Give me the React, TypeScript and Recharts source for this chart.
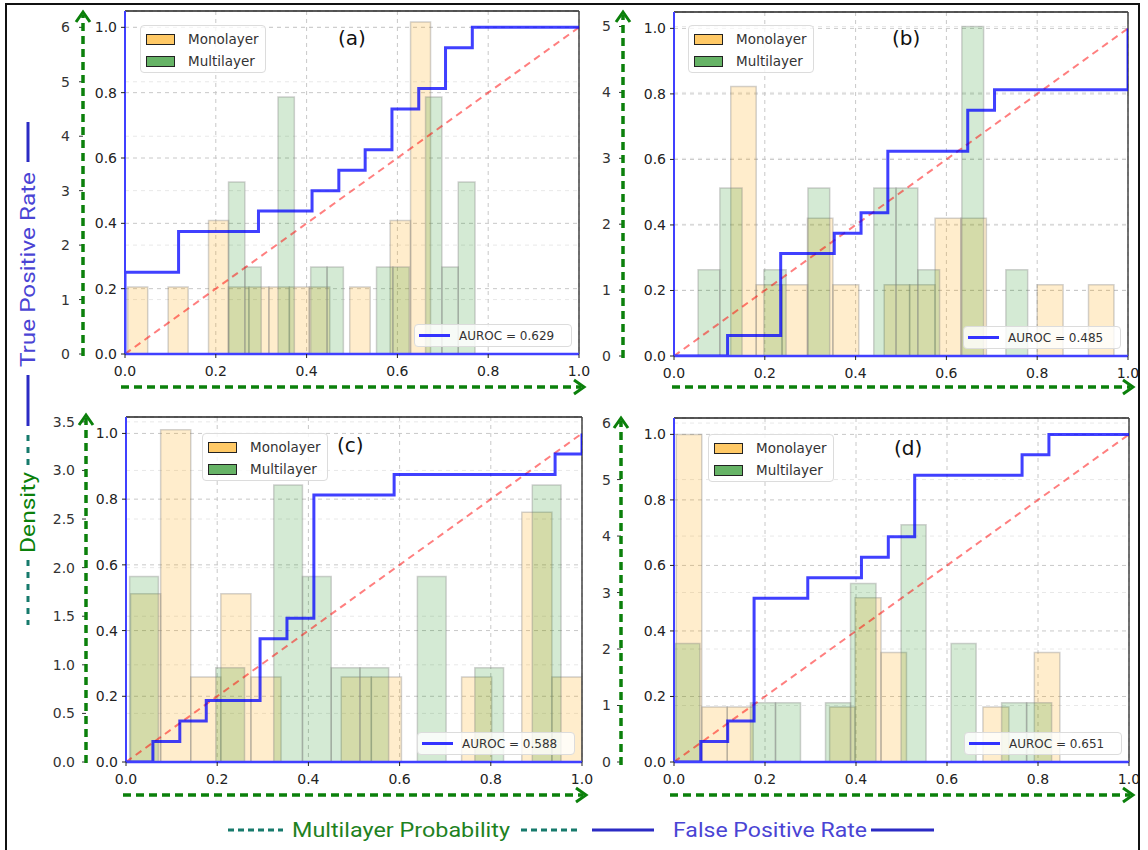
import { ComposedChart, Line, XAxis, YAxis, CartesianGrid, ReferenceArea, ReferenceLine, Legend } from 'recharts'

const xTicks = [0, 0.2, 0.4, 0.6, 0.8, 1]
const rocTicks = [0, 0.2, 0.4, 0.6, 0.8, 1]
const diagX = [0, 1]

// (a)
const monoEdgesA = [0.006, 0.050, 0.095, 0.139, 0.184, 0.228, 0.273, 0.317, 0.362, 0.406, 0.451, 0.495, 0.540, 0.584, 0.629, 0.673]
const monoDensA = [1.23, 0, 1.23, 0, 2.45, 1.23, 1.23, 1.23, 1.23, 1.23, 0, 1.23, 0, 2.45, 6.1]
const multiEdgesA = [0.228, 0.264, 0.300, 0.337, 0.373, 0.409, 0.445, 0.481, 0.517, 0.554, 0.590, 0.626, 0.662, 0.698, 0.734, 0.771]
const multiDensA = [3.16, 1.6, 0, 4.72, 0, 1.6, 1.6, 0, 0, 1.6, 1.6, 0, 4.72, 1.6, 3.16]
const fprA = [0, 0, 0.118, 0.118, 0.294, 0.294, 0.412, 0.412, 0.471, 0.471, 0.529, 0.529, 0.588, 0.588, 0.647, 0.647, 0.706, 0.706, 0.765, 0.765, 1]
const tprA = [0, 0.25, 0.25, 0.375, 0.375, 0.4375, 0.4375, 0.5, 0.5, 0.5625, 0.5625, 0.625, 0.625, 0.75, 0.75, 0.8125, 0.8125, 0.9375, 0.9375, 1, 1]
const densTicksA = [0, 1, 2, 3, 4, 5, 6]

// (b)
const monoEdgesB = [0.125, 0.181, 0.238, 0.294, 0.350, 0.407, 0.463, 0.519, 0.575, 0.632, 0.688, 0.744, 0.800, 0.857, 0.913, 0.969]
const monoDensB = [4.09, 1.08, 1.08, 2.09, 1.08, 0, 1.08, 1.08, 2.09, 2.09, 0, 0, 1.08, 0, 1.08]
const multiEdgesB = [0.053, 0.101, 0.150, 0.198, 0.247, 0.295, 0.343, 0.392, 0.440, 0.489, 0.537, 0.585, 0.634, 0.682, 0.731, 0.779]
const multiDensB = [1.31, 2.55, 0, 1.31, 0, 2.55, 0, 0, 2.55, 2.55, 1.31, 0, 5.0, 0, 1.31]
const fprB = [0, 0.118, 0.118, 0.235, 0.235, 0.353, 0.353, 0.412, 0.412, 0.471, 0.471, 0.647, 0.647, 0.706, 0.706, 1, 1]
const tprB = [0, 0, 0.0625, 0.0625, 0.3125, 0.3125, 0.375, 0.375, 0.4375, 0.4375, 0.625, 0.625, 0.75, 0.75, 0.8125, 0.8125, 1]
const densTicksB = [0, 1, 2, 3, 4, 5]

// (c)
const monoEdgesC = [0.010, 0.076, 0.142, 0.208, 0.274, 0.340, 0.406, 0.472, 0.538, 0.604, 0.670, 0.736, 0.802, 0.868, 0.934, 1.000]
const monoDensC = [1.73, 3.42, 0.875, 1.73, 0.875, 0, 0, 0.875, 0.875, 0, 0, 0.875, 0, 2.57, 0.875]
const multiEdgesC = [0.008, 0.071, 0.134, 0.197, 0.260, 0.324, 0.387, 0.450, 0.513, 0.576, 0.639, 0.702, 0.765, 0.828, 0.891, 0.954]
const multiDensC = [1.91, 0, 0, 0.97, 0, 2.85, 1.91, 0.97, 0.97, 0, 1.91, 0, 0.97, 0, 2.85]
const fprC = [0, 0.059, 0.059, 0.118, 0.118, 0.176, 0.176, 0.294, 0.294, 0.353, 0.353, 0.412, 0.412, 0.588, 0.588, 0.941, 0.941, 1, 1]
const tprC = [0, 0, 0.0625, 0.0625, 0.125, 0.125, 0.1875, 0.1875, 0.375, 0.375, 0.4375, 0.4375, 0.8125, 0.8125, 0.875, 0.875, 0.9375, 0.9375, 1]
const densTicksC = [0, 0.5, 1, 1.5, 2, 2.5, 3, 3.5]

// (d)
const monoEdgesD = [0.005, 0.061, 0.117, 0.174, 0.230, 0.286, 0.342, 0.398, 0.455, 0.511, 0.567, 0.623, 0.679, 0.736, 0.792, 0.848]
const monoDensD = [5.8, 0.975, 0.975, 0, 0, 0, 0.975, 2.91, 1.94, 0, 0, 0, 0.975, 0, 1.94]
const multiEdgesD = [0.002, 0.057, 0.112, 0.168, 0.223, 0.278, 0.333, 0.388, 0.444, 0.499, 0.554, 0.609, 0.664, 0.720, 0.775, 0.830]
const multiDensD = [2.1, 0, 0, 1.05, 1.05, 0, 1.05, 3.16, 0, 4.2, 0, 2.1, 0, 1.05, 1.05]
const fprD = [0, 0.059, 0.059, 0.118, 0.118, 0.176, 0.176, 0.294, 0.294, 0.412, 0.412, 0.471, 0.471, 0.529, 0.529, 0.765, 0.765, 0.824, 0.824, 1]
const tprD = [0, 0, 0.0625, 0.0625, 0.125, 0.125, 0.5, 0.5, 0.5625, 0.5625, 0.625, 0.625, 0.6875, 0.6875, 0.875, 0.875, 0.9375, 0.9375, 1, 1]
const densTicksD = [0, 1, 2, 3, 4, 5, 6]

const GREEN = '#0b800b'
const TEAL = '#177a6c'
const BLUE = '#2b2bc4'
const SPINE = '#4040ff'
const ROC = 'a-roc'
const DENS = 'b-dens'
const tickFont = { fontSize: 14, fill: '#222', fontFamily: 'DejaVu Sans' }

const bins = (edges: number[], dens: number[]) =>
  dens.map((h, i) => ({ x1: edges[i], x2: edges[i + 1], h })).filter(b => b.h > 0)
const pts = (xs: number[], ys: number[]) => xs.map((x, i) => ({ x, y: ys[i] }))
const int = (v: number) => String(v)
const one = (v: number) => v.toFixed(1)

const panels = [
  { tag: '(a)', auroc: '0.629', monoE: monoEdgesA, monoD: monoDensA, multiE: multiEdgesA, multiD: multiDensA, fpr: fprA, tpr: tprA,
    densTicks: densTicksA, densMax: 6.3, densFmt: int, left: 125, top: 11, w: 454, h: 343, densW: 32, rocW: 42, densGap: 9, keyAt: [15, 14], tagAt: [213, 34] },
  { tag: '(b)', auroc: '0.485', monoE: monoEdgesB, monoD: monoDensB, multiE: multiEdgesB, multiD: multiDensB, fpr: fprB, tpr: tprB,
    densTicks: densTicksB, densMax: 5.22, densFmt: int, left: 674, top: 12, w: 454, h: 344, densW: 32, rocW: 51, densGap: 8, keyAt: [14, 13], tagAt: [218, 33] },
  { tag: '(c)', auroc: '0.588', monoE: monoEdgesC, monoD: monoDensC, multiE: multiEdgesC, multiD: multiDensC, fpr: fprC, tpr: tprC,
    densTicks: densTicksC, densMax: 3.55, densFmt: one, left: 126, top: 417, w: 456, h: 345, densW: 45, rocW: 40, densGap: 7, keyAt: [76, 16], tagAt: [211, 35] },
  { tag: '(d)', auroc: '0.651', monoE: monoEdgesD, monoD: monoDensD, multiE: multiEdgesD, multiD: multiDensD, fpr: fprD, tpr: tprD,
    densTicks: densTicksD, densMax: 6.09, densFmt: int, left: 674, top: 418, w: 455, h: 344, densW: 32, rocW: 53, densGap: 6, keyAt: [34, 16], tagAt: [220, 37] },
]

type P = typeof panels[number]

function Keys({ p, px, py }: { p: P; px: number; py: number }) {
  const row = { display: 'flex', alignItems: 'center', height: 22 }
  const patch = (c: string) => ({ width: 27, height: 9, background: c, border: '1px solid #222', marginRight: 13 })
  return (
    <div style={{ position: 'relative', width: '100%', height: '100%', fontFamily: 'DejaVu Sans', color: '#333' }}>
      <div style={{ position: 'absolute', left: px + p.keyAt[0], top: py + p.keyAt[1], width: 126, height: 48, boxSizing: 'border-box',
        border: '1px solid #dcdcdc', borderRadius: 4, background: 'rgba(255,255,255,0.8)', padding: '2px 0 0 5px', fontSize: 13.5 }}>
        <div style={row}><div style={patch('#ffc966')} />Monolayer</div>
        <div style={row}><div style={patch('#66b366')} />Multilayer</div>
      </div>
      <div style={{ position: 'absolute', left: px + p.tagAt[0], top: py + p.tagAt[1] - 17, fontSize: 20, lineHeight: '20px', color: '#111' }}>{p.tag}</div>
      <div style={{ position: 'absolute', left: px + p.w - 7 - 158, top: py + p.h - 7 - 23, width: 158, height: 23, boxSizing: 'border-box',
        border: '1px solid #dcdcdc', borderRadius: 4, background: 'rgba(255,255,255,0.8)', display: 'flex', alignItems: 'center', paddingLeft: 4, fontSize: 12 }}>
        <div style={{ width: 31, height: 3, background: '#3333ff', marginRight: 9 }} />AUROC = {p.auroc}
      </div>
    </div>
  )
}

function Panel({ p }: { p: P }) {
  const ml = 6, mt = 8, mr = 22, axH = 40
  const px = ml + p.densW + p.rocW
  const cw = px + p.w + mr
  const ch = mt + p.h + axH
  return (
    <div style={{ position: 'absolute', left: p.left - px, top: p.top - mt }}>
      <ComposedChart width={cw} height={ch} margin={{ top: mt, right: mr, left: ml, bottom: 0 }}>
        <CartesianGrid yAxisId={DENS} vertical={false} stroke="#e8e8e8" strokeDasharray="4 4" />
        <CartesianGrid yAxisId={ROC} stroke="#c8c8c8" strokeDasharray="4 4" />
        <XAxis dataKey="x" type="number" domain={[0, 1]} ticks={xTicks} allowDataOverflow height={axH} tickFormatter={one}
          tickSize={4} tickMargin={8} tick={tickFont} tickLine={{ stroke: '#222' }} axisLine={{ stroke: SPINE, strokeWidth: 2.5 }} />
        <YAxis yAxisId={ROC} type="number" domain={[0, 1.05]} ticks={rocTicks} allowDataOverflow width={p.rocW} tickFormatter={one}
          tickSize={4} tickMargin={4} tick={tickFont} tickLine={{ stroke: '#222' }} axisLine={{ stroke: SPINE, strokeWidth: 2 }} />
        <YAxis yAxisId={DENS} type="number" domain={[0, p.densMax]} ticks={p.densTicks} allowDataOverflow width={p.densW} tickFormatter={p.densFmt}
          tickSize={4} tickMargin={p.densGap} tick={{ ...tickFont, fill: '#333' }} tickLine={{ stroke: '#333' }} axisLine={false} />
        {bins(p.monoE, p.monoD).map((b, i) => (
          <ReferenceArea key={'m' + i} yAxisId={DENS} x1={b.x1} x2={b.x2} y1={0} y2={b.h}
            fill="#ffa500" fillOpacity={0.2} stroke="#808080" strokeOpacity={0.35} strokeWidth={1.5} />
        ))}
        {bins(p.multiE, p.multiD).map((b, i) => (
          <ReferenceArea key={'g' + i} yAxisId={DENS} x1={b.x1} x2={b.x2} y1={0} y2={b.h}
            fill="#008000" fillOpacity={0.17} stroke="#808080" strokeOpacity={0.35} strokeWidth={1.5} />
        ))}
        <ReferenceLine yAxisId={ROC} y={1.05} stroke="#222" strokeWidth={1.5} />
        <ReferenceLine yAxisId={ROC} x={1} stroke="#444" strokeWidth={1.5} />
        <Line yAxisId={ROC} data={pts(diagX, diagX)} dataKey="y" type="linear" stroke="#ff0000" strokeOpacity={0.5}
          strokeWidth={2} strokeDasharray="7 5" dot={false} activeDot={false} isAnimationActive={false} />
        <Line yAxisId={ROC} data={pts(p.fpr, p.tpr)} dataKey="y" type="linear" stroke="#0000ff" strokeOpacity={0.75}
          strokeWidth={3} dot={false} activeDot={false} isAnimationActive={false} />
        <Legend layout="vertical" align="center" verticalAlign="middle"
          wrapperStyle={{ left: 0, top: 0, width: cw, height: ch, pointerEvents: 'none' }}
          content={() => <Keys p={p} px={px} py={mt} />} />
      </ComposedChart>
    </div>
  )
}

function VArrow({ x, y0, y1 }: { x: number; y0: number; y1: number }) {
  return (
    <g stroke={GREEN} strokeWidth={3.5} fill="none">
      <line x1={x} y1={y0} x2={x} y2={y1 + 3} strokeDasharray="8 5" />
      <polyline points={`${x - 7},${y1 + 10} ${x},${y1} ${x + 7},${y1 + 10}`} strokeWidth={3} />
    </g>
  )
}

function HArrow({ y, x0, x1 }: { y: number; x0: number; x1: number }) {
  return (
    <g stroke={GREEN} strokeWidth={3.5} fill="none">
      <line x1={x0} y1={y} x2={x1 - 3} y2={y} strokeDasharray="8 5" />
      <polyline points={`${x1 - 10},${y - 7} ${x1},${y} ${x1 - 10},${y + 7}`} strokeWidth={3} />
    </g>
  )
}

export default function App() {
  const title = { fontFamily: 'Roboto', fontSize: 21 }
  return (
    <div style={{ position: 'absolute', left: 0, top: 0, width: 1148, height: 850, background: '#fff', overflow: 'hidden' }}>
      {panels.map(p => <Panel key={p.tag} p={p} />)}
      <svg width={1148} height={850} style={{ position: 'absolute', left: 0, top: 0, pointerEvents: 'none' }}>
        <g stroke="#111" strokeWidth={2}>
          <line x1={5} y1={4} x2={1140} y2={4} />
          <line x1={6} y1={4} x2={6} y2={850} />
          <line x1={1139} y1={4} x2={1139} y2={850} />
        </g>
        <VArrow x={83} y0={356} y1={12} />
        <VArrow x={623} y0={358} y1={12} />
        <VArrow x={86} y0={763} y1={415} />
        <VArrow x={621} y0={765} y1={418} />
        <HArrow y={387} x0={121} x1={584} />
        <HArrow y={387} x0={672} x1={1133} />
        <HArrow y={795} x0={123} x1={586} />
        <HArrow y={795} x0={670} x1={1133} />

        <g strokeWidth={3}>
          <line x1={28} y1={122} x2={28} y2={162} stroke={BLUE} />
          <line x1={28} y1={375} x2={28} y2={426} stroke={BLUE} />
          <line x1={28} y1={435} x2={28} y2={468} stroke={TEAL} strokeDasharray="6 6" />
          <line x1={28} y1={560} x2={28} y2={625} stroke={TEAL} strokeDasharray="6 6" />
          <line x1={228} y1={830} x2={283} y2={830} stroke={TEAL} strokeDasharray="6 4" />
          <line x1={521} y1={830} x2={578} y2={830} stroke={TEAL} strokeDasharray="6 4" />
          <line x1={592} y1={830} x2={654} y2={830} stroke={BLUE} />
          <line x1={871} y1={830} x2={934} y2={830} stroke={BLUE} />
        </g>
        <text x={35} y={269.5} transform="rotate(-90 35 269.5)" textAnchor="middle" fill="#4a44d4" style={title}
          textLength={195} lengthAdjust="spacingAndGlyphs">True Positive Rate</text>
        <text x={35} y={512.5} transform="rotate(-90 35 512.5)" textAnchor="middle" fill={GREEN} style={title}
          textLength={81} lengthAdjust="spacingAndGlyphs">Density</text>
        <text x={292} y={837} fill="#1f821f" style={title} textLength={218} lengthAdjust="spacingAndGlyphs">Multilayer Probability</text>
        <text x={673} y={837} fill="#4a44d4" style={title} textLength={194} lengthAdjust="spacingAndGlyphs">False Positive Rate</text>
      </svg>
    </div>
  )
}
